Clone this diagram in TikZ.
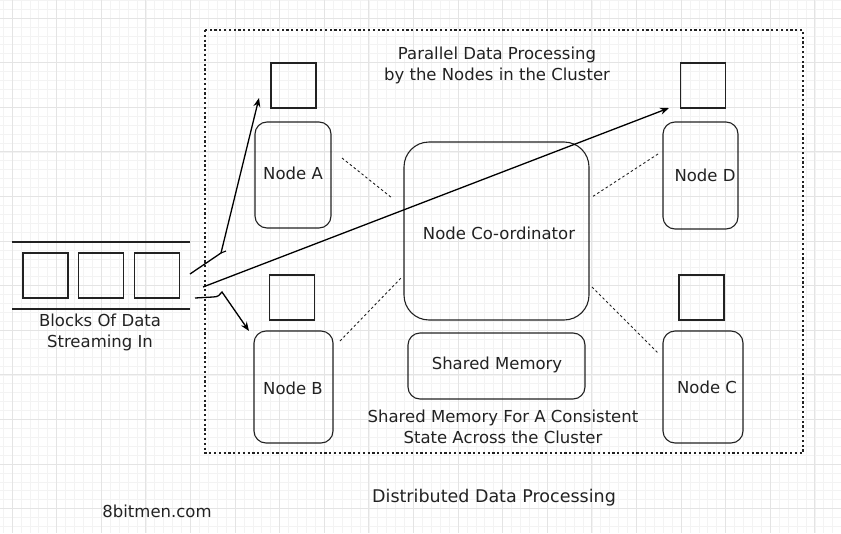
\documentclass[tikz,border=0pt]{standalone}
\usepackage{fontspec}
\setmainfont{DejaVu Sans}
\usetikzlibrary{arrows.meta}
\definecolor{ink}{HTML}{222222}
\definecolor{gridmin}{HTML}{F3F3F3}
\definecolor{gridmaj}{HTML}{E4E4E4}
\begin{document}
\begin{tikzpicture}[x=1pt,y=-1pt,
  font=\fontsize{16.5}{21}\selectfont,
  txt/.style={text=ink, inner sep=0pt, align=center},
  sq/.style={draw=ink, line width=1.1pt, minimum width=45pt, minimum height=45pt, inner sep=0pt},
  rbox/.style={draw=ink, line width=1.1pt, rounded corners=12pt, inner sep=0pt, text=ink},
  dots/.style={draw=ink, line width=0.9pt, dash pattern=on 2.5pt off 2.5pt},
  frame/.style={draw=ink, line width=1.1pt, dash pattern=on 2.2pt off 2.6pt},
  arr/.style={draw=black, line width=1.3pt, -{Stealth[length=9pt,width=7pt]}},
  gmin/.style={draw=gridmin, line width=0.6pt},
  gmaj/.style={draw=gridmaj, line width=0.8pt}]
\useasboundingbox (0,0) rectangle (841,533);
\fill[white] (0,0) rectangle (841,533);
% grid
\foreach \i in {-2,...,95} { \draw[gmin] ({12+8.92*\i},0) -- ({12+8.92*\i},533); }
\foreach \i in {-3,...,58} { \draw[gmin] (0,{18+8.92*\i}) -- (841,{18+8.92*\i}); }
\foreach \i in {0,...,18} { \draw[gmaj] ({12+44.6*\i},0) -- ({12+44.6*\i},533); }
\foreach \i in {0,...,11} { \draw[gmaj] (0,{18+44.6*\i}) -- (841,{18+44.6*\i}); }

% cluster frame
\draw[frame] (205,30) rectangle (803,453);

% stream
\draw[draw=ink, line width=1.1pt] (12,242) -- (190,242);
\draw[draw=ink, line width=1.1pt] (12,309) -- (190,309);
\node[sq] (b1) at (45.5,275.5) {};
\node[sq] (b2) at (101,275.5) {};
\node[sq] (b3) at (157,275.5) {};
\node[txt] (streamlbl) at (100,332) {Blocks Of Data\\Streaming In};

% squares above nodes
\node[sq] (sqA) at (293.5,85.5) {};
\node[sq] (sqB) at (292,297.5) {};
\node[sq] (sqD) at (703,85.5) {};
\node[sq] (sqC) at (701.5,297.5) {};

% nodes
\node[rbox, minimum width=76pt, minimum height=106pt] (nA) at (293,175) {};
\node[txt] at (293,173) {Node A};
\node[rbox, minimum width=79pt, minimum height=112pt] (nB) at (293.5,387) {};
\node[txt] at (293,388) {Node B};
\node[rbox, minimum width=75pt, minimum height=107pt] (nD) at (700.5,175.5) {};
\node[txt] at (705,175) {Node D};
\node[rbox, minimum width=80pt, minimum height=112pt] (nC) at (703,387) {};
\node[txt] at (707,387) {Node C};
\node[rbox, rounded corners=25pt, minimum width=185pt, minimum height=178pt] (coord) at (496.5,231) {};
\node[txt] at (499,233) {Node Co-ordinator};
\node[rbox, minimum width=177pt, minimum height=66pt] (shm) at (496.5,366) {};
\node[txt] at (497,365) {Shared Memory};

% labels
\node[txt] (ttl) at (497,65.5) {Parallel Data Processing\\by the Nodes in the Cluster};
\node[txt] (shmlbl) at (503,426.5) {Shared Memory For A Consistent\\State Across the Cluster};
\node[txt] (site) at (157,511) {8bitmen.com};
\node[txt, font=\fontsize{17.5}{21}\selectfont] (cap) at (494,498) {Distributed Data Processing};

% dotted links between nodes and coordinator
\coordinate (a1) at (342,158); \coordinate (a2) at (392,198);
\coordinate (b1e) at (340,341); \coordinate (b2e) at (402,277);
\coordinate (d1) at (658,154); \coordinate (d2) at (592,197);
\coordinate (c1) at (592,287); \coordinate (c2) at (658,353);
\draw[dots] (a1) -- (a2);
\draw[dots] (b1e) -- (b2e);
\draw[dots] (d1) -- (d2);
\draw[dots] (c1) -- (c2);

% arrows
\coordinate (sA) at (190,274);
\coordinate (kA) at (221,253);
\coordinate (tA) at (259,98);
\draw[arr] (sA) -- (kA) -- (tA);
\draw[draw=black, line width=1.1pt] (kA) -- (226,251);
\coordinate (sD) at (203,287);
\coordinate (tD) at (669,108);
\draw[arr] (sD) -- (tD);
\coordinate (sB) at (195,298);
\coordinate (kB) at (213,297);
\coordinate (tB) at (249,331);
\draw[arr] (sB) -- (kB) .. controls (218,297) and (220,295) .. (222,292) -- (tB);
\end{tikzpicture}
\end{document}
